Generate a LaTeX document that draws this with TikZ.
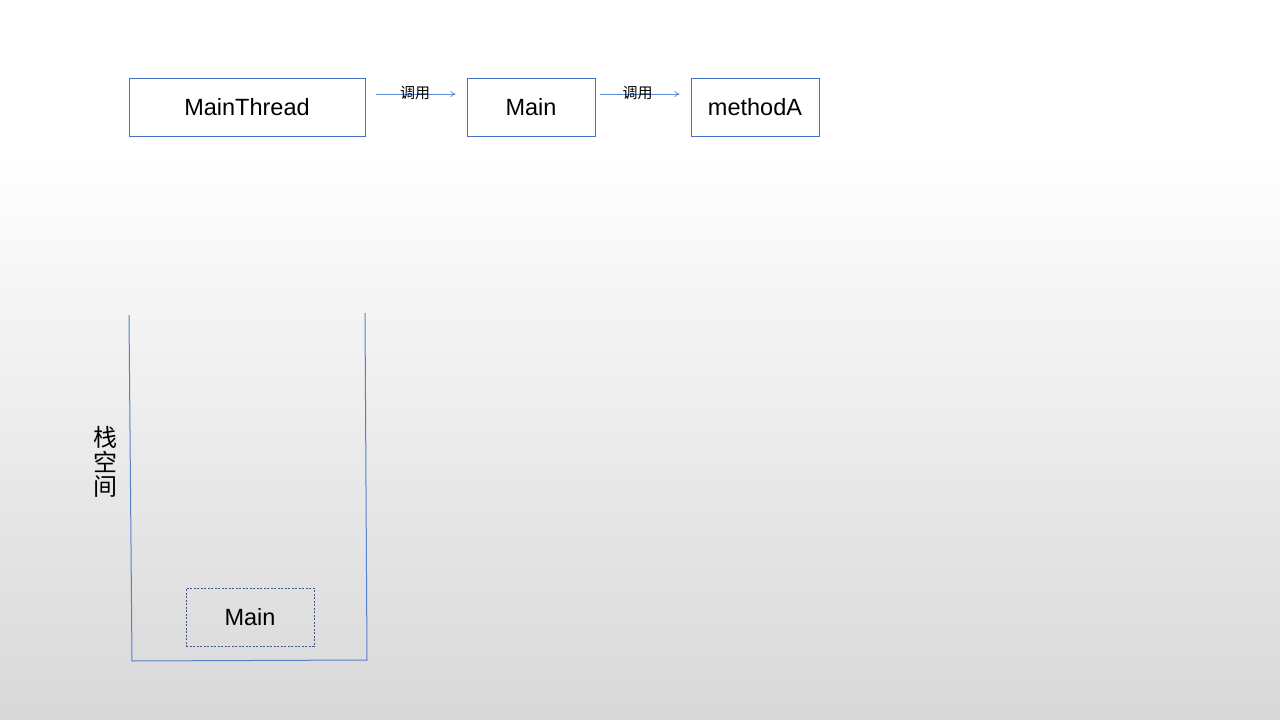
\documentclass[tikz,border=0pt]{standalone}
\usepackage{fontspec}
\setmainfont{Liberation Sans}
\newfontfamily\cjk{Noto Sans CJK SC}
\usetikzlibrary{arrows.meta}
\definecolor{boxline}{RGB}{68,114,196}
\definecolor{arrowline}{RGB}{91,140,213}
\definecolor{dotline}{RGB}{64,88,130}
\definecolor{bgbottom}{RGB}{216,216,216}
\tikzset{
  callbox/.style={draw=boxline, line width=0.9pt, fill=white, minimum height=58pt,
    inner sep=0pt, font=\fontsize{23.5}{26}\selectfont},
  callarrow/.style={draw=arrowline, line width=0.7pt, -{To[length=5pt,width=6pt]}},
  calllabel/.style={font=\cjk\fontsize{15}{16}\selectfont, inner sep=0pt},
  stackwall/.style={draw=boxline!90, line width=1pt},
  framebox/.style={draw=dotline, dash pattern=on 2pt off 1.5pt, line width=0.8pt,
    minimum width=128pt, minimum height=58pt, inner sep=0pt,
    font=\fontsize{23.5}{26}\selectfont},
}
\begin{document}
\begin{tikzpicture}[x=1pt,y=-1pt]
  % page background
  \useasboundingbox (0,0) rectangle (1280,720);
  \fill[white] (0,0) rectangle (1280,151);
  \shade[top color=white, bottom color=bgbottom] (0,150) rectangle (1280,720);

  % call chain
  \node[callbox, minimum width=236pt] (mt) at (247,107) {MainThread};
  \node[callbox, minimum width=128pt] (main) at (531,107) {Main};
  \node[callbox, minimum width=128pt] (ma) at (755,107) {methodA};

  \draw[callarrow] ([xshift=11pt,yshift=13pt]mt.east) -- ([xshift=-11pt,yshift=13pt]main.west)
    node[calllabel, pos=0.49, yshift=1pt] {调用};
  \draw[callarrow] ([xshift=5pt,yshift=13pt]main.east) -- ([xshift=-11pt,yshift=13pt]ma.west)
    node[calllabel, pos=0.47, yshift=1pt] {调用};

  % stack space container
  \coordinate (tl) at (129,315);
  \coordinate (bl) at (132,661);
  \coordinate (br) at (367,660);
  \coordinate (tr) at (365,313);
  \draw[stackwall] (tl) -- (bl) -- (br) -- (tr);

  \node[font=\cjk\fontsize{24}{24.5}\selectfont, align=center, inner sep=0pt] (stk) at (105,462)
    {栈\\空\\间};

  % frame on the stack
  \node[framebox] (frame) at (250,617) {Main};
\end{tikzpicture}
\end{document}
